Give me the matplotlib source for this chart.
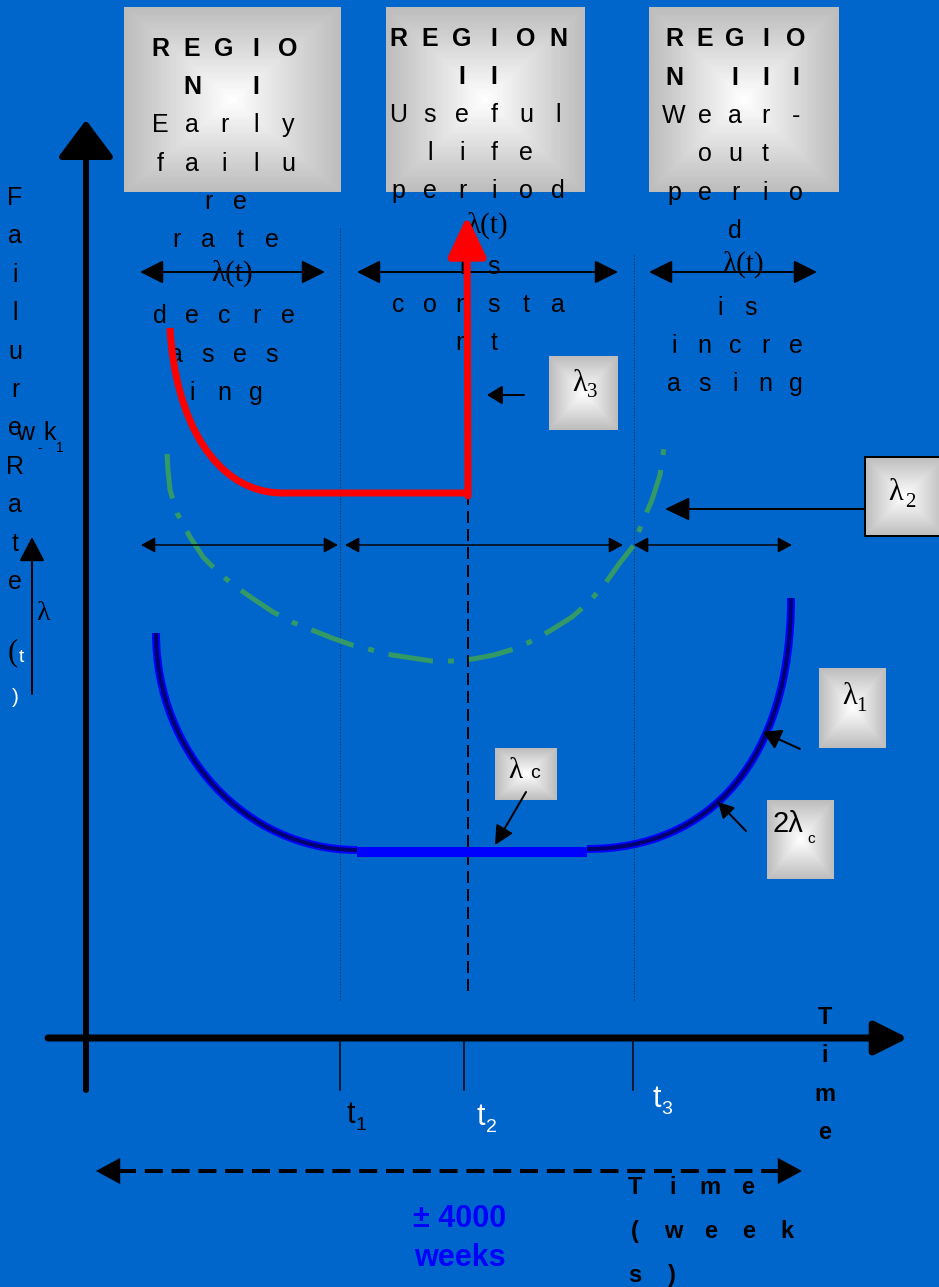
import numpy as np
import matplotlib
matplotlib.use("Agg")
import matplotlib.pyplot as plt
from matplotlib.path import Path
from matplotlib.patches import PathPatch

plt.rcParams["font.family"] = ["Liberation Sans", "DejaVu Sans"]
SERIF = ["Liberation Serif", "DejaVu Serif"]

# ── Curves (x px from left, y px from top) ──
# red: early-failure decay (cubic Bezier control points) then flat run
RED_X = [170, 175, 215, 283, 468]
RED_Y = [328, 420, 493, 493, 493]

GREEN_X = [167, 168, 170, 177, 190, 203, 219, 236, 255, 273, 292, 312, 332, 352,
           372, 392, 412, 432, 452, 473, 494, 514, 534, 553, 572, 588, 604, 619,
           634, 642, 652, 660, 664]
GREEN_Y = [454, 470, 490, 513, 537, 557, 573, 587, 600, 612, 622, 630, 638, 645,
           650, 655, 658, 661, 661, 659, 655, 649, 640, 629, 617, 603, 585, 564,
           545, 523, 500, 475, 448]

# blue bathtub: two Bezier arcs joined by a flat segment
BLUE_LEFT_X = [156, 156, 246, 357]
BLUE_LEFT_Y = [633, 753, 850, 850]
BLUE_FLAT_X = [357, 587]
BLUE_FLAT_Y = [852, 852]
BLUE_RIGHT_X = [587, 710, 791, 791]
BLUE_RIGHT_Y = [849, 849, 760, 598]

T_TICKS = [340, 464, 633]
T_SUBS = ["1", "2", "3"]
T_COLORS = ["black", "white", "white"]

REGION1 = ["REGIO", "N I", "Early", "failu", "re", "rate", None, "decre", "ases", "ing"]
REGION2 = ["REGION", "II", "Useful", "life", "period", None, "is", "consta", "nt"]
REGION3 = ["REGIO", "N III", "Wear-", "out", "perio", "d", None, "is", "incre", "asing"]
YLABEL = "FailureRate"

PX = 0.72  # points per pixel at dpi 100
BG = "#0066CC"


def arrow(ax, tail, tip, hl, hw, lw, color="black", both=False, z=5):
    style = ("<|-|>" if both else "-|>") + f",head_length={hl*PX:.2f},head_width={hw*PX:.2f}"
    ax.annotate("", xy=tip, xytext=tail, zorder=z,
                arrowprops=dict(arrowstyle=style, color=color, lw=lw*PX,
                                shrinkA=0, shrinkB=0, mutation_scale=1))


def spaced(ax, cx, y, s, dx, align="center", **kw):
    x0 = cx - (len(s) - 1) / 2 * dx if align == "center" else cx
    for i, ch in enumerate(s):
        if ch != " ":
            ax.text(x0 + i * dx, y, ch, ha="center", va="baseline", zorder=4, **kw)


def grad_box(ax, x0, y0, x1, y1, edge=None):
    u = np.linspace(-1, 1, 80)
    g = np.maximum(np.abs(u)[None, :], np.abs(u)[:, None])
    img = 1 - 0.26 * g
    ax.imshow(img, cmap="gray", vmin=0, vmax=1, extent=(x0, x1, y1, y0),
              aspect="auto", interpolation="bilinear", zorder=2)
    if edge:
        ax.plot([x0, x1, x1, x0, x0], [y0, y0, y1, y1, y0], color=edge, lw=2*PX, zorder=2.5)


def bezier(ax, xs, ys, color, lw, z, tail_line=False):
    codes = [Path.MOVETO, Path.CURVE4, Path.CURVE4, Path.CURVE4]
    if tail_line:
        codes += [Path.LINETO] * (len(xs) - 4)
    patch = PathPatch(Path(np.column_stack([xs, ys]), codes), fill=False,
                      edgecolor=color, lw=lw*PX, capstyle="butt", joinstyle="round",
                      zorder=z)
    ax.add_patch(patch)


fig = plt.figure(figsize=(9.39, 12.87), dpi=100, facecolor=BG)
ax = fig.add_axes([0, 0, 1, 1])
ax.set_facecolor(BG)

# ── Region boxes and their text ───────────────────────────────
grad_box(ax, 124, 7, 341, 192)
grad_box(ax, 386, 7, 585, 192)
grad_box(ax, 649, 7, 839, 192)

for k, line in enumerate(REGION1):
    if line:
        spaced(ax, 224, 56 + 38.2 * k, line, 32, fontsize=18,
               fontweight="bold" if k < 2 else "normal")
for k, line in enumerate(REGION2):
    if line:
        spaced(ax, 478, 46 + 38 * k, line, 32, fontsize=18,
               fontweight="bold" if k < 2 else "normal")
for k, line in enumerate(REGION3):
    if line:
        spaced(ax, 735, 46.5 + 38.3 * k, line, 30.5, fontsize=18,
               fontweight="bold" if k < 2 else "normal")

for x, y in [(232, 281), (487, 233), (743, 272)]:
    ax.text(x, y, "λ(t)", family=SERIF, fontsize=21, ha="center", va="baseline", zorder=4)

# ── Region separators ─────────────────────────────────────────
ax.plot([340, 340], [228, 1000], color="#222222", lw=1*PX, ls=(0, (1, 2)), zorder=3)
ax.plot([634, 634], [255, 1000], color="#222222", lw=1*PX, ls=(0, (1, 2)), zorder=3)
ax.plot([468, 468], [493, 995], color="black", lw=2*PX, ls=(0, (6, 3)), zorder=3)

# region span arrows
for a, b in [(140, 325), (357, 618), (649, 817)]:
    arrow(ax, (a, 272), (b, 272), 20, 10, 2, both=True)
for a, b in [(141, 338), (345, 623), (634, 792)]:
    arrow(ax, (a, 545), (b, 545), 12, 6.5, 1.5, both=True)

# ── Curves ────────────────────────────────────────────────────
ax.plot(GREEN_X, GREEN_Y, color="#339966", lw=5*PX, ls=(0, (9, 3, 1.2, 3)),
        dash_capstyle="butt", zorder=4)

for xs, ys in [(BLUE_LEFT_X, BLUE_LEFT_Y), (BLUE_RIGHT_X, BLUE_RIGHT_Y)]:
    bezier(ax, xs, ys, "#0000FF", 8, 4)
    bezier(ax, xs, ys, "#000070", 4, 4.1)
ax.plot(BLUE_FLAT_X, BLUE_FLAT_Y, color="#0000FF", lw=10*PX, solid_capstyle="butt", zorder=4.2)

bezier(ax, RED_X, RED_Y, "#FF0000", 7, 6, tail_line=True)
arrow(ax, (468, 496), (467, 216), 34, 16, 7, color="#FF0000", z=6)

# ── Lambda callout boxes ──────────────────────────────────────
grad_box(ax, 549, 356, 618, 430)
ax.text(580, 391, "λ", family=SERIF, fontsize=22, ha="center", va="baseline", zorder=4)
ax.text(592, 397, "3", family=SERIF, fontsize=15, ha="center", va="baseline", zorder=4)
arrow(ax, (524, 395), (487, 395), 13, 8, 2)

grad_box(ax, 865, 457, 945, 536, edge="black")
ax.text(896, 500, "λ", family=SERIF, fontsize=22, ha="center", va="baseline", zorder=4)
ax.text(910, 507, "2", family=SERIF, fontsize=15, ha="center", va="baseline", zorder=4)
arrow(ax, (865, 509), (665, 509), 21, 10, 2)

grad_box(ax, 819, 668, 886, 748)
ax.text(850, 704, "λ", family=SERIF, fontsize=22, ha="center", va="baseline", zorder=4)
ax.text(861, 711, "1", family=SERIF, fontsize=15, ha="center", va="baseline", zorder=4)
arrow(ax, (800, 749), (763, 732), 15, 9, 2)

grad_box(ax, 495, 748, 557, 800)
ax.text(515, 778, "λ", family=SERIF, fontsize=21, ha="center", va="baseline", zorder=4)
ax.text(535, 778, "c", fontsize=14, ha="center", va="baseline", zorder=4)
arrow(ax, (526, 792), (495, 845), 16, 8, 2)

grad_box(ax, 767, 800, 834, 879)
ax.text(788, 832, "2λ", fontsize=21, ha="center", va="baseline", zorder=4)
ax.text(811, 843, "c", fontsize=11, ha="center", va="baseline", zorder=4)
arrow(ax, (746, 831), (718, 802), 13, 7, 2)

# ── Axes ──────────────────────────────────────────────────────
arrow(ax, (86, 1090), (86, 120), 32, 24, 6)
arrow(ax, (48, 1038), (908, 1038), 28, 14, 7)

for x in T_TICKS:
    ax.plot([x, x], [1040, 1090], color="black", lw=1.5*PX, zorder=3)
t_pos = [(351, 1123), (481, 1125), (657, 1107)]
for (x, y), sub, c in zip(t_pos, T_SUBS, T_COLORS):
    ax.text(x, y, "t", fontsize=22, color=c, ha="center", va="baseline", zorder=4)
    ax.text(x + 10, y + 7, sub, fontsize=14, color=c, ha="center", va="baseline", zorder=4)

# y label, letter by letter
for k, ch in enumerate(YLABEL):
    ax.text(15, 205 + 38.4 * k, ch, fontsize=18, ha="center", va="baseline", zorder=4)
ax.text(13, 660, "(", family=SERIF, fontsize=22, ha="center", va="baseline", zorder=4)
ax.text(21, 662, "t", fontsize=14, color="white", ha="center", va="baseline", zorder=4)
ax.text(15, 703, ")", fontsize=15, color="white", ha="center", va="baseline", zorder=4)
ax.text(25, 440, "w", fontsize=18, ha="center", va="baseline", zorder=4)
ax.text(40, 452, "-", fontsize=10, ha="center", va="baseline", zorder=4)
ax.text(50, 440, "k", fontsize=18, ha="center", va="baseline", zorder=4)
ax.text(60, 452, "1", fontsize=10, ha="center", va="baseline", zorder=4)
arrow(ax, (32, 694), (32, 537), 21, 11, 2)
ax.text(43, 620, "λ", family=SERIF, fontsize=20, ha="center", va="baseline", zorder=4)

# x label "Time" stacked beside the arrow
for k, ch in enumerate("Time"):
    ax.text(825, 1024 + 38.3 * k, ch, fontsize=17, fontweight="bold",
            ha="center", va="baseline", zorder=4)

# ── Span of the whole time axis ───────────────────────────────
ax.plot([118, 780], [1171, 1171], color="black", lw=4*PX, ls=(0, (4.5, 2.2)),
        dash_capstyle="butt", zorder=3)
arrow(ax, (120, 1171), (96, 1171), 24, 13, 0.1)
arrow(ax, (778, 1171), (802, 1171), 24, 13, 0.1)

ax.text(460, 1227, "± 4000", fontsize=22, fontweight="bold", color="#0000FF",
        ha="center", va="baseline", zorder=4)
ax.text(460, 1266, "weeks", fontsize=22, fontweight="bold", color="#0000FF",
        ha="center", va="baseline", zorder=4)

spaced(ax, 635, 1194, "Time", 37.5, align="left", fontsize=17, fontweight="bold")
spaced(ax, 635, 1238, "(week", 38, align="left", fontsize=17, fontweight="bold")
spaced(ax, 635, 1282, "s)", 37, align="left", fontsize=17, fontweight="bold")

ax.set_xlim(0, 939)
ax.set_ylim(1287, 0)
ax.axis("off")

plt.savefig("out.png", dpi=100, facecolor=BG)
plt.close()
